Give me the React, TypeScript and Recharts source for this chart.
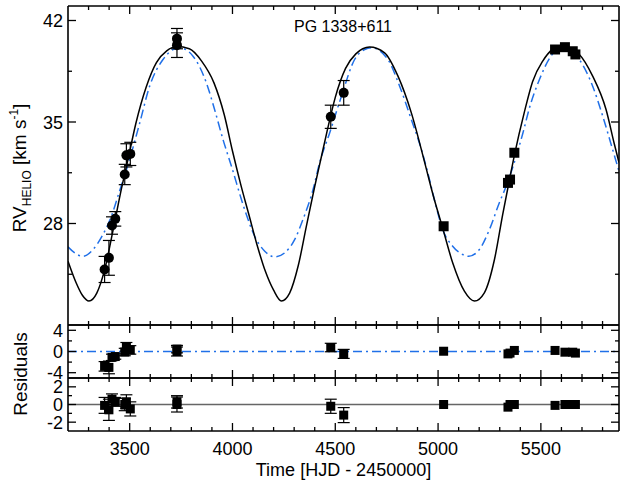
import React from "react";
import {
  ComposedChart,
  Line,
  Scatter,
  XAxis,
  YAxis,
  ErrorBar,
  ReferenceLine,
} from "recharts";

// orbit fits (HJD - 2450000, km/s)
const solidFitT = [3200, 3240, 3270, 3302, 3340, 3378, 3420, 3460, 3490, 3530, 3580, 3630, 3680, 3730, 3790, 3850, 3910, 3960, 4000, 4040, 4080, 4120, 4160, 4200, 4238, 4278, 4320, 4360, 4400, 4430, 4460, 4500, 4550, 4600, 4667, 4740, 4805, 4870, 4935, 4975, 5022, 5071, 5128, 5177, 5225, 5274, 5314, 5347, 5371, 5420, 5460, 5509, 5557, 5606, 5687, 5752, 5817, 5857, 5880];
const solidFitRV = [25.4, 23.9, 23.05, 22.65, 23.2, 24.8, 27.6, 30.4, 32.3, 34.9, 37.4, 39.1, 39.9, 40.2, 40.05, 39.2, 37.7, 35.5, 33.0, 30.7, 28.6, 26.5, 24.7, 23.4, 22.65, 23.2, 25.1, 27.85, 30.55, 32.45, 34.35, 36.7, 38.7, 39.7, 40.17, 39.77, 38.16, 35.63, 32.2, 30.0, 27.7, 25.29, 23.33, 22.65, 23.22, 25.5, 28.6, 31.0, 32.7, 35.7, 37.8, 39.2, 40.0, 40.23, 39.66, 38.16, 35.86, 33.5, 32.2];

const dashFitT = [3200, 3240, 3273, 3322, 3370, 3411, 3448, 3495, 3549, 3597, 3662, 3711, 3743, 3808, 3873, 3913, 3954, 3995, 4059, 4108, 4157, 4206, 4254, 4303, 4343, 4392, 4424, 4473, 4530, 4594, 4643, 4676, 4756, 4813, 4870, 4919, 4950, 4990, 5022, 5071, 5120, 5149, 5201, 5250, 5298, 5332, 5365, 5413, 5445, 5493, 5549, 5606, 5687, 5752, 5801, 5849, 5880];
const dashFitRV = [26.39, 25.9, 25.74, 26.21, 27.24, 28.5, 30.12, 32.2, 34.94, 37.47, 39.31, 40.0, 40.12, 39.54, 37.7, 35.86, 33.79, 31.95, 28.97, 27.12, 26.09, 25.7, 25.98, 26.9, 28.28, 30.34, 32.19, 34.26, 36.78, 39.31, 40.0, 40.12, 39.31, 37.47, 35.17, 33.1, 31.5, 29.2, 27.6, 26.43, 25.86, 25.74, 26.21, 27.59, 29.43, 30.6, 31.95, 34.26, 36.0, 37.93, 39.54, 40.2, 39.31, 37.47, 35.4, 33.1, 31.6];

// first data set (circles, with errors)
const circleT = [3378, 3399, 3414, 3430, 3476, 3484, 3503, 3730, 3730, 4478, 4541];
const circleRV = [24.83, 25.63, 27.86, 28.32, 31.38, 32.7, 32.8, 40.75, 40.3, 35.36, 37.01];
const circleErr = [0.9, 1.2, 0.6, 0.5, 0.7, 0.8, 0.8, 0.7, 0.85, 0.8, 0.85];
const circleResDash = [-2.8, -3.0, -1.1, -0.95, -0.1, 0.9, 0.3, 0.45, 0.0, 0.75, -0.45];
const circleResSolid = [-0.1, -0.6, 0.6, 0.3, 0.0, 0.3, -0.5, 0.3, 0.0, -0.2, -1.2];

// second data set (squares)
const squareT = [5027, 5340, 5350, 5371, 5569, 5617, 5655, 5668];
const squareRV = [27.81, 30.8, 31.03, 32.88, 40.0, 40.16, 39.88, 39.66];
const squareResDash = [0.05, -0.45, -0.3, 0.2, 0.2, -0.13, -0.13, -0.3];
const squareResSolid = [0.0, -0.3, 0.0, 0.0, -0.1, 0.0, 0.0, 0.0];

const xTicks = [3300, 3400, 3500, 3600, 3700, 3800, 3900, 4000, 4100, 4200, 4300, 4400, 4500, 4600, 4700, 4800, 4900, 5000, 5100, 5200, 5300, 5400, 5500, 5600, 5700, 5800];
const xMajor = [3500, 4000, 4500, 5000, 5500];
const rvTicks = [24.5, 28, 31.5, 35, 38.5, 42];
const rvMajor = [28, 35, 42];
const res1Ticks = [-4, -2, 0, 2, 4];
const res1Major = [-4, 0, 4];
const res2Ticks = [-2, -1, 0, 1, 2];
const res2Major = [-2, 0, 2];

const FONT = "'Liberation Sans', Arial, Helvetica, sans-serif";
const BLUE = "#2070e8";
const X_DOMAIN = [3200, 5880];
const AXIS_W = 1.6;

const solidFit = solidFitT.map((t, i) => ({ t, v: solidFitRV[i] }));
const dashFit = dashFitT.map((t, i) => ({ t, v: dashFitRV[i] }));
const circles = circleT.map((t, i) => ({ t, v: circleRV[i], err: circleErr[i] }));
const squares = squareT.map((t, i) => ({ t, v: squareRV[i] }));
const res1 = [
  ...circleT.map((t, i) => ({ t, v: circleResDash[i], err: circleErr[i] })),
  ...squareT.map((t, i) => ({ t, v: squareResDash[i], err: 0 })),
];
const res2 = [
  ...circleT.map((t, i) => ({ t, v: circleResSolid[i], err: circleErr[i] })),
  ...squareT.map((t, i) => ({ t, v: squareResSolid[i], err: 0 })),
];

const textStyle = { fontFamily: FONT, fontSize: 19, fill: "#000" };

const xTick = (side: "top" | "bottom", labels: boolean) => (props: any) => {
  const { x, y, payload } = props;
  const major = xMajor.includes(payload.value);
  const len = major ? 8 : 4;
  const dir = side === "bottom" ? -1 : 1;
  return (
    <g>
      <line x1={x} x2={x} y1={y} y2={y + dir * len} stroke="#000" strokeWidth={1.3} />
      {labels && major && (
        <text x={x} y={y + 24} textAnchor="middle" {...textStyle} fontSize={18}>
          {payload.value}
        </text>
      )}
    </g>
  );
};

const yTick = (side: "left" | "right", majors: number[], labels: boolean) => (props: any) => {
  const { x, y, payload } = props;
  const major = majors.includes(payload.value);
  const len = major ? 8 : 4;
  const dir = side === "left" ? 1 : -1;
  return (
    <g>
      <line x1={x} x2={x + dir * len} y1={y} y2={y} stroke="#000" strokeWidth={1.3} />
      {labels && major && (
        <text x={x - 5} y={y + 6.5} textAnchor="end" {...textStyle} fontSize={18}>
          {payload.value}
        </text>
      )}
    </g>
  );
};

const square = (size: number) => (p: any) => (
  <rect x={p.cx - size / 2} y={p.cy - size / 2} width={size} height={size} fill="#000" />
);
const circle = (p: any) => <circle cx={p.cx} cy={p.cy} r={5} fill="#000" />;

// one panel: a full-size chart whose plot box runs from `top` to `bottom`
function Panel(props: {
  top: number;
  bottom: number;
  yDomain: number[];
  yTicks: number[];
  yMajor: number[];
  xLabels?: boolean;
  children: React.ReactNode;
  yLabel?: () => React.ReactElement;
  xTitle?: () => React.ReactElement;
  topTitle?: () => React.ReactElement;
}) {
  const common = {
    type: "number" as const,
    allowDataOverflow: true,
    interval: 0 as const,
    tickSize: 0,
    tickMargin: 0,
    tickLine: false,
    axisLine: { stroke: "#000", strokeWidth: AXIS_W },
  };
  return (
    <div style={{ position: "absolute", left: 0, top: 0 }}>
      <ComposedChart
        width={623}
        height={482}
        margin={{ top: props.top - 1, right: 3, bottom: 482 - props.bottom - 1, left: 67 }}
      >
        <XAxis
          {...common}
          xAxisId="b"
          dataKey="t"
          domain={X_DOMAIN}
          ticks={xTicks}
          height={1}
          tick={xTick("bottom", !!props.xLabels)}
          label={props.xTitle ? { content: props.xTitle } : undefined}
        />
        <XAxis
          {...common}
          xAxisId="t"
          orientation="top"
          dataKey="t"
          domain={X_DOMAIN}
          ticks={xTicks}
          height={1}
          tick={xTick("top", false)}
          label={props.topTitle ? { content: props.topTitle } : undefined}
        />
        <YAxis
          {...common}
          yAxisId="l"
          dataKey="v"
          domain={props.yDomain}
          ticks={props.yTicks}
          width={1}
          tick={yTick("left", props.yMajor, true)}
          label={props.yLabel ? { content: props.yLabel } : undefined}
        />
        <YAxis
          {...common}
          yAxisId="r"
          orientation="right"
          dataKey="v"
          domain={props.yDomain}
          ticks={props.yTicks}
          width={1}
          tick={yTick("right", props.yMajor, false)}
        />
        {props.children}
      </ComposedChart>
    </div>
  );
}

const rvLabel = () => (
  <text transform="translate(26,168) rotate(-90)" textAnchor="middle" {...textStyle}>
    RV
    <tspan fontSize={12} dy={5}>HELIO</tspan>
    <tspan dy={-5}> [km s</tspan>
    <tspan fontSize={12} dy={-8}>-1</tspan>
    <tspan dy={8}>]</tspan>
  </text>
);

const resLabel = () => (
  <text transform="translate(27,374) rotate(-90)" textAnchor="middle" {...textStyle}>
    Residuals
  </text>
);

const timeLabel = () => (
  <text x={343.5} y={476} textAnchor="middle" {...textStyle} fontSize={18}>
    Time [HJD - 2450000]
  </text>
);

const starLabel = () => (
  <text x={343} y={32} textAnchor="middle" fontFamily={FONT} fontSize={16} fill="#000">
    PG 1338+611
  </text>
);

export default function App() {
  return (
    <div style={{ position: "absolute", left: 0, top: 0, width: 623, height: 482, background: "#fff" }}>
      <Panel top={6} bottom={325} yDomain={[21, 43]} yTicks={rvTicks} yMajor={rvMajor} yLabel={rvLabel} topTitle={starLabel}>
        <Line
          xAxisId="b"
          yAxisId="l"
          data={dashFit}
          dataKey="v"
          type="monotone"
          dot={false}
          stroke={BLUE}
          strokeWidth={1.5}
          strokeDasharray="9 4 2 4"
          isAnimationActive={false}
        />
        <Line
          xAxisId="b"
          yAxisId="l"
          data={solidFit}
          dataKey="v"
          type="monotone"
          dot={false}
          stroke="#000"
          strokeWidth={1.5}
          isAnimationActive={false}
        />
        <Scatter xAxisId="b" yAxisId="l" data={circles} shape={circle} isAnimationActive={false}>
          <ErrorBar dataKey="err" direction="y" width={6} stroke="#000" strokeWidth={1.2} />
        </Scatter>
        <Scatter xAxisId="b" yAxisId="l" data={squares} shape={square(10)} isAnimationActive={false} />
      </Panel>

      <Panel top={325} bottom={378} yDomain={[-5, 5]} yTicks={res1Ticks} yMajor={res1Major} yLabel={resLabel}>
        <ReferenceLine xAxisId="b" yAxisId="l" y={0} stroke={BLUE} strokeWidth={1.5} strokeDasharray="9 4 2 4" />
        <Scatter xAxisId="b" yAxisId="l" data={res1} shape={square(9)} isAnimationActive={false}>
          <ErrorBar dataKey="err" direction="y" width={6} stroke="#000" strokeWidth={1.2} />
        </Scatter>
      </Panel>

      <Panel top={378} bottom={431} yDomain={[-3, 3]} yTicks={res2Ticks} yMajor={res2Major} xLabels xTitle={timeLabel}>
        <ReferenceLine xAxisId="b" yAxisId="l" y={0} stroke="#666" strokeWidth={1.4} />
        <Scatter xAxisId="b" yAxisId="l" data={res2} shape={square(9)} isAnimationActive={false}>
          <ErrorBar dataKey="err" direction="y" width={6} stroke="#000" strokeWidth={1.2} />
        </Scatter>
      </Panel>
    </div>
  );
}
